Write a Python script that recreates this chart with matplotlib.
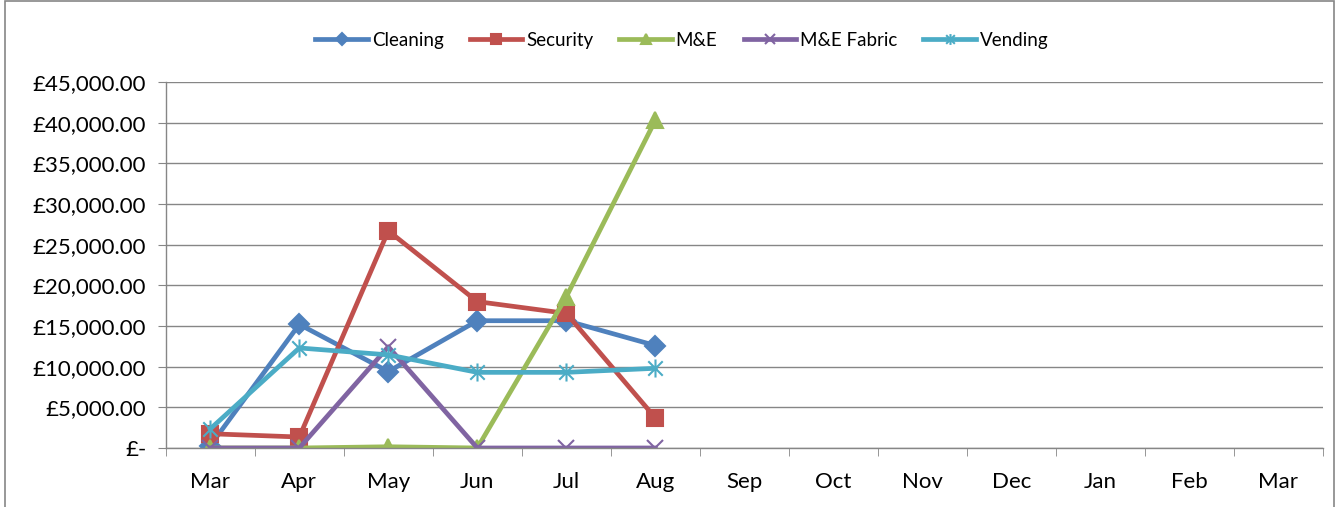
import numpy as np
import matplotlib.pyplot as plt
from matplotlib.path import Path
from matplotlib.patches import Rectangle
from matplotlib.ticker import FuncFormatter

months = ["Mar", "Apr", "May", "Jun", "Jul", "Aug", "Sep", "Oct", "Nov", "Dec", "Jan", "Feb", "Mar"]

cleaning = [300, 15200, 9400, 15650, 15650, 12600]
security = [1750, 1350, 26700, 18000, 16550, 3700]
m_and_e = [0, 0, 150, 0, 18600, 40300]
me_fabric = [0, 0, 12450, 0, 0, 0]
vending = [2350, 12300, 11450, 9300, 9300, 9800]

# asterisk marker like the spreadsheet "star": an x with a vertical stroke
star = Path([(0, -1), (0, 1), (-0.8, -0.8), (0.8, 0.8), (-0.8, 0.8), (0.8, -0.8)],
            [Path.MOVETO, Path.LINETO] * 3)

series = [
    ("Cleaning", cleaning, "#4F81BD", "D", 10),
    ("Security", security, "#C0504D", "s", 11),
    ("M&E", m_and_e, "#9BBB59", "^", 12),
    ("M&E Fabric", me_fabric, "#8064A2", "x", 11),
    ("Vending", vending, "#4BACC6", star, 13),
]

plt.rcParams['font.family'] = ['Lato', 'DejaVu Sans']

fig = plt.figure(figsize=(13.37, 5.07), dpi=100)
ax = fig.add_axes([0.124, 0.1164, 0.8655, 0.7218])

x = np.arange(len(months))
for name, vals, col, mk, ms in series:
    ax.plot(x[:len(vals)], vals, color=col, lw=3.4, marker=mk, markersize=ms,
            markeredgecolor=col, markerfacecolor=col, markeredgewidth=1.5, label=name)

ax.set_xlim(-0.5, len(months) - 0.5)
ax.set_ylim(0, 45000)
ax.set_yticks(np.arange(0, 45001, 5000))
ax.yaxis.set_major_formatter(FuncFormatter(lambda v, p: "£-" if v == 0 else f"£{v:,.2f}"))
ax.set_xticks(x)
ax.set_xticklabels(months)
ax.set_xticks(np.arange(-0.5, len(months)), minor=True)

ax.grid(axis='y', color='#868686', lw=1)
ax.set_axisbelow(True)
for s in ['top', 'right']:
    ax.spines[s].set_visible(False)
for s in ['left', 'bottom']:
    ax.spines[s].set_color('#868686')
    ax.spines[s].set_linewidth(1)

ax.tick_params(axis='y', length=6, color='#868686', labelsize=16, pad=8)
ax.tick_params(axis='x', which='major', length=0, labelsize=16, pad=17)
ax.tick_params(axis='x', which='minor', length=6, color='#868686')

fig.legend(loc='center', bbox_to_anchor=(0.51, 0.921), ncol=5, frameon=False,
           fontsize=13.5, handlelength=2.8, columnspacing=1.4, handletextpad=0.2,
           markerscale=0.6)

# chart border
fig.patches.append(Rectangle((0.004, -0.01), 0.994, 1.009, transform=fig.transFigure,
                             fill=False, edgecolor='#868686', lw=1.2))

fig.savefig("out.png", dpi=100)
